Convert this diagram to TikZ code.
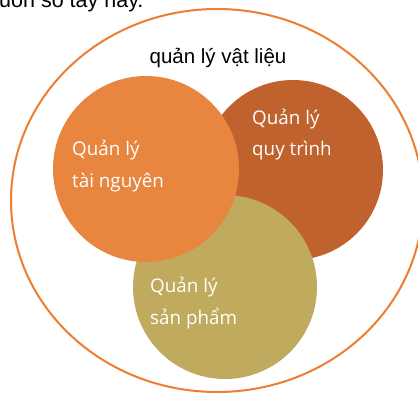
\documentclass[tikz,border=0pt]{standalone}
\usepackage{fontspec}
\setmainfont{Liberation Sans}
\newfontfamily\lblfont{Open Sans}
\definecolor{outlineC}{HTML}{ED7D31}
\definecolor{resC}{HTML}{E8863F}
\definecolor{procC}{HTML}{C0622E}
\definecolor{prodC}{HTML}{BFAA5E}
\tikzset{
  blob/.style={circle, inner sep=0pt, draw=none},
  lbl/.style={anchor=base west, inner sep=0pt, text=white, font=\lblfont\fontsize{18.8}{22}\selectfont},
  head/.style={anchor=base, inner sep=0pt, text=black, font=\fontsize{20.5}{24}\selectfont}
}
\begin{document}
\begin{tikzpicture}[x=1pt,y=-1pt]
\useasboundingbox (0,0) rectangle (418,394);
\node[anchor=base west, inner sep=0pt, font=\fontsize{21.5}{24}\selectfont] (top) at (-1,7) {uồn sổ tay này.};
\draw[outlineC, line width=2pt] (217,200.5) ellipse [x radius=206pt, y radius=191.5pt];
\node[blob, fill=procC, minimum size=180pt] (proc) at (293,170) {};
\node[blob, fill=prodC, minimum size=184pt] (prod) at (225,287) {};
\node[blob, fill=resC, minimum size=186pt] (res) at (146,169) {};
\node[head] (title) at (218,63) {quản lý vật liệu};
\node[lbl] (res1) at (72,155) {Quản lý};
\node[lbl] (res2) at (72,187) {tài nguyên};
\node[lbl] (proc1) at (252,124) {Quản lý};
\node[lbl] (proc2) at (252,155) {quy trình};
\node[lbl] (prod1) at (150,292) {Quản lý};
\node[lbl] (prod2) at (150,324) {sản phẩm};
\end{tikzpicture}
\end{document}
